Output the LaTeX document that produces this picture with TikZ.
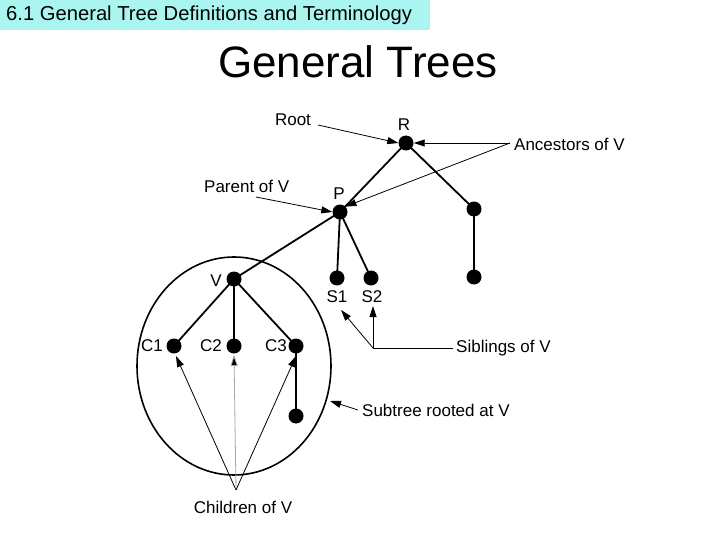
\documentclass[tikz,border=0pt]{standalone}
\usepackage{fontspec}
\setmainfont{Liberation Sans}
\usetikzlibrary{arrows.meta}
\definecolor{hdr}{RGB}{170,245,240}
\begin{document}
\begin{tikzpicture}[x=1pt,y=-1pt,
  dot/.style={circle,fill=black,inner sep=0pt,minimum size=15pt},
  edge/.style={line width=1.8pt},
  lbl/.style={font=\fontsize{17}{19}\selectfont,inner sep=0pt},
  ptr/.style={line width=0.8pt,-{Triangle[length=11pt,width=7pt]}},
  plain/.style={line width=0.8pt}]
\useasboundingbox (0,0) rectangle (720,540);
\fill[white] (0,0) rectangle (720,540);
\node[fill=hdr,minimum width=430pt,minimum height=30pt,anchor=north west,inner sep=0pt] (hdr) at (0,0) {};
\node[anchor=west,font=\fontsize{20.2}{22}\selectfont,inner sep=0pt] (htxt) at (6,15) {6.1 General Tree Definitions and Terminology};
\node[font=\fontsize{44}{48}\selectfont,inner sep=0pt] (title) at (358,62) {General Trees};
% tree nodes
\node[dot] (R) at (406,143) {};
\node[dot] (P) at (340,212) {};
\node[dot] (A) at (474,209) {};
\node[dot] (B) at (474,277) {};
\node[dot] (S1) at (337,278) {};
\node[dot] (S2) at (371,278) {};
\node[dot] (V) at (234,279) {};
\node[dot] (C1) at (174,346) {};
\node[dot] (C2) at (234,346) {};
\node[dot] (C3) at (296,346) {};
\node[dot] (D) at (296,416) {};
% ellipse
\draw[line width=1.6pt] (234,366) ellipse [x radius=97, y radius=109];
% edges
\draw[edge] (R.center) -- (P.center);
\draw[edge] (R.center) -- (A.center);
\draw[edge] (A.center) -- (B.center);
\draw[edge] (P.center) -- (S1.center);
\draw[edge] (P.center) -- (S2.center);
\draw[edge] (P.center) -- (V.center);
\draw[edge] (V.center) -- (C1.center);
\draw[edge] (V.center) -- (C2.center);
\draw[edge] (V.center) -- (C3.center);
\draw[edge] (C3.center) -- (D.center);
% node labels
\node[lbl] (lR) at (404,125) {R};
\node[lbl] (lP) at (339,194) {P};
\node[lbl] (lV) at (216,281) {V};
\node[lbl] (lS1) at (337,297) {S1};
\node[lbl] (lS2) at (372,297) {S2};
\node[lbl] (lC1) at (152,346) {C1};
\node[lbl] (lC2) at (211,346) {C2};
\node[lbl] (lC3) at (276,346) {C3};
% annotation labels
\node[lbl] (root) at (293,120) {Root};
\node[lbl,anchor=west] (anc) at (514,144) {Ancestors of V};
\node[lbl,anchor=west] (par) at (204,186) {Parent of V};
\node[lbl,anchor=west] (sib) at (456,348) {Siblings of V};
\node[lbl,anchor=west] (sub) at (362,410) {Subtree rooted at V};
\node[lbl] (chi) at (243,507) {Children of V};
% pointers
\coordinate (rootS) at (318,125);
\draw[ptr] (rootS) -- (R.west);
\coordinate (ancS) at (510,143);
\draw[ptr] (ancS) -- (R.east);
\draw[ptr] (ancS) -- (P.north east);
\coordinate (parS) at (256,197);
\draw[ptr] (parS) -- (P.west);
\coordinate (sibS) at (453,348);
\coordinate (sibJ) at (373,348);
\draw[plain] (sibS) -- (sibJ);
\draw[ptr] (sibJ) -- (373,306);
\draw[ptr] (sibJ) -- (341,310);
\coordinate (subS) at (358,410);
\draw[ptr] (subS) -- (330,401);
\coordinate (chiS) at (236,490);
\draw[ptr] (chiS) -- (176,356);
\draw[ptr,draw=gray!70,-{Triangle[length=11pt,width=7pt,fill=black]}] (chiS) -- (234,355);
\draw[ptr] (chiS) -- (296,356);
\end{tikzpicture}
\end{document}
